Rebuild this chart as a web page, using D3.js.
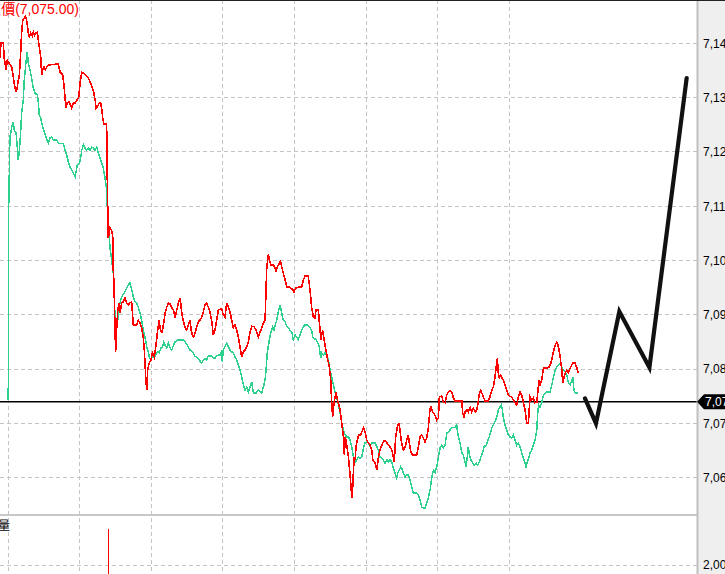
<!DOCTYPE html>
<html><head><meta charset="utf-8">
<script src="https://cdn.jsdelivr.net/npm/d3@7"></script>
<style>html,body{margin:0;padding:0;background:#fff;overflow:hidden}svg{display:block}</style>
</head><body>
<svg id="c" width="725" height="574"></svg>
<script>
const titleText = "成交價(7,075.00)";
const volumeLabel = "量";
const lastPrice = 7075;
const priceTicks = [7141,7131,7121,7111,7101,7091,7081,7071,7061];
const volumeTicks = [2000];
const timeTicks = [0,30,60,90,120,150,180,210];

// [minutes after open, price]
const priceSeries = [[-3.4,7138.3],[-2.9,7141.1],[-2.0,7141.1],[-1.6,7138.3],[-0.8,7136.1],[-0.3,7137.9],[0.4,7137.4],[1.6,7136.6],[2.2,7134.8],[2.9,7132.8],[3.4,7132.0],[3.9,7133.0],[4.3,7134.2],[4.7,7134.8],[5.3,7139.2],[5.7,7142.9],[6.2,7145.3],[7.3,7146.0],[7.8,7145.3],[8.5,7142.9],[8.9,7142.2],[9.5,7142.9],[10.2,7142.3],[10.6,7143.1],[11.2,7142.5],[11.7,7142.9],[12.3,7143.1],[12.7,7141.6],[13.1,7140.3],[13.7,7138.5],[14.1,7135.2],[14.5,7136.1],[15.1,7136.6],[15.6,7136.1],[16.2,7136.6],[16.9,7137.0],[21.1,7137.2],[21.8,7135.7],[22.9,7135.2],[23.5,7133.0],[23.9,7130.9],[24.3,7129.1],[24.8,7130.0],[25.7,7130.2],[26.7,7129.1],[27.4,7130.0],[28.1,7130.0],[29.0,7130.6],[29.6,7131.1],[30.2,7133.7],[30.9,7135.7],[31.6,7135.5],[33.0,7135.0],[33.6,7134.6],[34.4,7133.9],[35.1,7133.0],[35.7,7132.4],[36.5,7130.6],[36.9,7129.1],[37.4,7129.3],[38.3,7130.0],[38.8,7130.0],[39.3,7128.7],[39.7,7127.2],[40.2,7126.1],[41.3,7126.1],[41.5,7120.8],[41.6,7115.8],[41.8,7110.3],[42.0,7105.1],[42.7,7107.0],[43.4,7106.6],[43.9,7105.3],[44.1,7099.2],[44.4,7096.9],[44.8,7088.6],[45.1,7084.2],[45.5,7088.2],[46.0,7091.9],[46.5,7093.2],[46.9,7091.3],[47.6,7093.2],[48.3,7093.4],[49.0,7094.1],[49.7,7093.2],[50.4,7092.8],[51.1,7093.2],[51.8,7093.4],[52.5,7089.1],[53.9,7089.1],[54.6,7090.0],[55.3,7089.5],[56.0,7088.6],[56.7,7086.7],[57.1,7084.5],[57.7,7079.4],[58.1,7077.1],[58.5,7080.8],[59.1,7082.1],[59.9,7082.7],[60.5,7084.0],[61.3,7083.2],[61.9,7085.1],[62.7,7088.2],[63.3,7090.0],[63.7,7088.6],[64.4,7087.6],[65.1,7089.1],[65.8,7091.3],[66.5,7092.4],[67.2,7093.2],[67.9,7093.0],[68.6,7092.3],[69.3,7091.9],[70.0,7090.4],[70.7,7091.9],[71.4,7093.2],[72.1,7094.1],[72.8,7091.3],[73.4,7090.0],[74.2,7088.6],[74.9,7088.2],[75.5,7089.1],[76.3,7090.0],[76.7,7088.2],[77.2,7087.3],[77.8,7086.9],[78.3,7087.6],[79.1,7088.8],[79.7,7089.7],[80.4,7090.0],[81.2,7090.6],[81.8,7091.5],[82.5,7092.8],[83.2,7093.2],[83.9,7092.4],[84.6,7091.5],[85.3,7090.0],[86.0,7087.3],[86.7,7088.2],[87.4,7090.0],[88.1,7091.9],[89.5,7092.1],[90.2,7091.0],[90.9,7090.6],[91.6,7093.2],[92.3,7092.4],[93.0,7091.5],[93.7,7090.0],[94.4,7088.6],[95.1,7089.1],[95.8,7088.2],[96.5,7086.9],[97.2,7085.1],[97.9,7083.2],[98.6,7084.2],[99.3,7084.5],[100.0,7085.1],[100.7,7086.0],[101.4,7087.8],[102.1,7088.9],[103.1,7088.8],[103.9,7088.2],[104.9,7086.9],[105.6,7087.8],[106.3,7088.6],[107.0,7089.5],[107.7,7090.0],[108.1,7095.6],[108.4,7099.8],[109.1,7102.2],[109.5,7101.1],[110.1,7100.2],[111.1,7100.2],[111.9,7099.6],[112.3,7098.9],[112.8,7099.8],[113.7,7100.5],[114.2,7100.9],[114.7,7099.8],[115.3,7098.7],[116.1,7097.4],[116.8,7096.1],[118.1,7096.1],[119.3,7095.6],[119.8,7095.2],[120.5,7095.9],[121.6,7096.1],[123.0,7096.1],[123.7,7097.4],[124.4,7098.1],[125.8,7098.1],[126.5,7095.6],[127.2,7092.4],[127.9,7090.6],[128.6,7090.4],[129.0,7091.9],[130.0,7091.9],[130.7,7088.2],[131.1,7086.4],[131.8,7088.2],[132.4,7086.4],[133.2,7084.5],[133.8,7083.0],[134.6,7081.4],[135.2,7079.0],[135.6,7074.8],[136.0,7072.2],[136.6,7074.8],[137.4,7076.8],[138.0,7075.3],[138.4,7074.8],[139.1,7073.5],[139.8,7071.1],[140.5,7068.5],[140.9,7065.2],[141.3,7068.5],[141.9,7067.0],[142.6,7064.8],[143.3,7061.5],[143.7,7059.3],[144.0,7057.3],[144.4,7059.3],[145.0,7064.8],[145.4,7064.3],[145.8,7066.7],[146.3,7067.9],[146.9,7068.9],[147.8,7068.9],[148.2,7069.4],[148.9,7070.2],[149.6,7069.4],[150.3,7067.9],[151.0,7067.4],[151.7,7067.0],[152.4,7066.1],[152.8,7064.3],[153.8,7063.7],[154.5,7062.4],[155.1,7064.6],[155.8,7066.1],[156.6,7067.0],[157.2,7067.6],[157.9,7067.9],[158.7,7067.4],[159.3,7067.0],[160.0,7066.7],[160.8,7066.1],[161.4,7064.8],[161.8,7063.9],[162.4,7068.5],[163.1,7070.3],[163.7,7071.1],[164.2,7069.8],[164.9,7067.4],[165.6,7066.1],[166.3,7066.5],[167.0,7067.9],[167.7,7068.9],[168.1,7067.4],[168.8,7065.7],[169.5,7065.2],[171.2,7065.2],[171.9,7066.7],[172.6,7068.5],[173.3,7068.9],[174.0,7068.3],[174.7,7067.6],[175.4,7068.3],[176.1,7070.3],[176.8,7073.8],[177.2,7074.0],[177.9,7073.1],[178.9,7072.5],[179.6,7071.6],[180.3,7072.0],[180.7,7075.9],[181.7,7076.0],[182.4,7074.9],[183.1,7074.8],[183.8,7076.2],[184.5,7076.8],[185.2,7077.0],[185.9,7076.8],[186.6,7075.7],[187.3,7075.1],[190.1,7075.1],[190.5,7072.9],[191.0,7072.2],[191.5,7073.1],[192.2,7073.5],[192.8,7073.1],[193.6,7074.0],[194.3,7073.1],[194.9,7073.8],[195.7,7073.1],[196.4,7073.5],[197.0,7075.1],[197.5,7076.6],[198.0,7077.1],[198.5,7076.6],[199.1,7075.9],[199.9,7075.1],[201.2,7075.1],[201.9,7075.9],[202.7,7077.1],[203.3,7077.7],[204.0,7079.5],[204.5,7081.4],[205.0,7083.0],[205.4,7080.3],[205.8,7079.4],[206.4,7079.9],[206.9,7079.4],[207.5,7079.0],[208.2,7078.1],[208.9,7077.1],[209.6,7076.2],[210.3,7076.0],[211.0,7075.9],[211.7,7075.3],[212.4,7074.9],[213.1,7074.4],[213.8,7075.9],[214.5,7076.8],[215.2,7076.2],[215.9,7074.9],[216.6,7073.5],[217.3,7071.1],[218.0,7071.1],[218.4,7074.0],[218.7,7075.9],[219.4,7075.3],[220.1,7075.7],[220.8,7074.8],[221.5,7074.9],[221.9,7076.6],[222.5,7079.0],[222.9,7078.1],[223.6,7079.0],[224.3,7081.2],[225.7,7081.2],[226.8,7081.4],[227.4,7082.1],[227.8,7082.7],[228.5,7084.2],[229.2,7085.4],[229.9,7086.0],[230.6,7085.1],[231.3,7083.2],[232.0,7080.8],[232.4,7078.4],[232.9,7079.5],[233.5,7080.3],[234.1,7080.8],[234.7,7080.3],[235.5,7081.2],[236.6,7082.1],[237.6,7082.1],[238.3,7081.2],[238.9,7080.3]];

const avgSeries = [[0.1,7075.3],[0.3,7110.9],[0.8,7123.7],[1.6,7125.6],[2.2,7126.5],[2.6,7125.0],[3.4,7124.5],[3.9,7121.9],[4.3,7119.5],[4.7,7121.0],[5.3,7124.5],[5.7,7128.2],[6.4,7130.6],[6.8,7134.2],[7.5,7137.4],[8.1,7139.4],[8.5,7137.4],[9.2,7136.1],[9.9,7134.6],[10.6,7132.8],[11.3,7131.8],[12.3,7131.5],[12.7,7130.2],[13.1,7127.8],[13.7,7127.2],[14.5,7125.6],[15.2,7124.7],[15.9,7123.7],[16.9,7122.6],[17.6,7123.6],[18.3,7123.7],[19.0,7123.2],[20.4,7123.2],[21.1,7122.6],[23.2,7122.5],[23.9,7121.3],[24.6,7120.4],[25.3,7119.1],[26.0,7118.2],[26.7,7117.7],[27.4,7117.1],[28.1,7116.4],[28.5,7117.3],[29.0,7118.6],[29.9,7118.9],[30.5,7120.1],[30.9,7121.3],[31.6,7122.3],[32.3,7121.7],[33.0,7121.3],[33.6,7121.7],[34.4,7121.3],[35.1,7121.9],[35.7,7121.7],[36.5,7121.3],[37.2,7121.9],[37.8,7120.8],[38.5,7119.9],[39.3,7118.9],[39.9,7118.0],[40.6,7116.4],[41.3,7114.0],[41.6,7110.9],[42.0,7108.5],[42.4,7106.1],[42.7,7103.5],[43.4,7101.1],[44.1,7098.7],[44.5,7096.1],[44.8,7090.6],[45.3,7090.0],[45.8,7089.1],[46.2,7091.3],[46.9,7093.2],[47.6,7094.3],[48.7,7095.0],[49.7,7095.9],[50.4,7096.5],[51.1,7096.9],[51.8,7095.6],[52.5,7094.3],[53.2,7093.4],[53.9,7093.2],[54.6,7092.4],[55.3,7091.3],[56.0,7090.0],[56.7,7088.2],[57.4,7086.9],[58.1,7085.1],[58.8,7084.2],[59.2,7083.2],[59.9,7082.7],[60.6,7083.6],[61.3,7083.0],[61.9,7083.6],[62.7,7084.2],[63.3,7084.0],[64.1,7084.9],[64.8,7085.1],[65.2,7086.0],[65.8,7085.4],[66.5,7084.9],[67.2,7085.8],[67.9,7084.9],[68.6,7084.5],[69.3,7085.4],[70.0,7086.0],[70.7,7086.2],[71.4,7086.4],[73.4,7086.4],[74.2,7086.0],[74.9,7085.6],[75.5,7085.1],[76.3,7084.5],[77.0,7084.2],[77.6,7084.0],[78.3,7083.4],[79.1,7083.2],[79.7,7082.9],[80.4,7082.5],[81.2,7082.1],[81.8,7082.7],[82.5,7083.0],[83.2,7082.7],[83.9,7083.4],[85.3,7083.4],[86.0,7083.0],[86.7,7083.0],[87.4,7083.4],[88.1,7083.6],[88.8,7083.6],[89.5,7084.2],[89.8,7082.3],[90.1,7084.4],[90.9,7085.1],[91.6,7085.8],[92.3,7085.1],[93.0,7084.5],[93.7,7084.2],[94.4,7084.0],[95.1,7083.2],[95.8,7082.7],[96.5,7081.8],[97.2,7080.8],[97.9,7079.5],[98.6,7078.1],[99.3,7077.1],[100.0,7077.7],[100.7,7076.8],[101.4,7077.7],[102.1,7078.6],[102.8,7076.6],[103.9,7076.6],[104.9,7077.1],[105.6,7076.8],[106.3,7076.6],[107.0,7077.7],[107.7,7079.0],[108.1,7080.8],[108.6,7084.0],[109.5,7086.4],[110.1,7087.8],[110.9,7088.8],[111.4,7088.2],[111.9,7089.1],[112.6,7090.0],[113.2,7091.5],[114.0,7092.8],[114.7,7091.3],[115.3,7090.0],[116.1,7089.7],[116.8,7088.8],[117.4,7088.6],[118.1,7088.2],[118.9,7087.8],[119.5,7086.4],[120.2,7087.3],[121.0,7086.9],[121.6,7086.4],[122.3,7087.3],[123.0,7088.2],[123.7,7088.8],[124.4,7089.1],[125.4,7089.1],[126.2,7088.8],[127.2,7088.2],[127.7,7086.9],[128.2,7086.7],[129.0,7086.4],[129.6,7086.0],[130.4,7085.1],[131.0,7083.0],[131.4,7084.0],[132.1,7083.6],[132.8,7084.0],[133.5,7083.6],[134.2,7082.7],[134.9,7081.0],[135.6,7079.5],[136.3,7078.1],[137.0,7076.8],[137.7,7075.9],[138.4,7074.4],[139.1,7072.9],[139.8,7071.1],[140.5,7069.8],[141.2,7068.9],[141.9,7068.5],[142.6,7068.5],[143.3,7067.9],[144.0,7066.7],[144.4,7065.6],[145.0,7064.3],[145.5,7063.9],[146.1,7064.3],[146.8,7064.8],[147.5,7064.6],[148.2,7064.8],[148.9,7066.5],[149.6,7067.4],[150.3,7067.6],[151.0,7067.4],[151.7,7066.7],[152.4,7067.4],[153.8,7067.4],[154.5,7066.7],[155.1,7066.1],[155.8,7064.8],[156.6,7064.6],[157.2,7064.3],[157.9,7063.7],[158.7,7064.3],[159.3,7063.9],[160.0,7064.3],[160.8,7063.9],[161.4,7062.8],[162.1,7061.9],[162.8,7060.9],[163.3,7061.9],[163.9,7062.4],[164.5,7063.0],[164.9,7062.8],[165.6,7061.9],[166.3,7061.1],[167.0,7061.5],[167.7,7061.5],[168.4,7060.6],[169.1,7059.3],[169.8,7058.2],[171.2,7058.2],[171.9,7057.8],[172.6,7056.9],[173.3,7055.6],[174.0,7055.4],[174.7,7055.4],[175.4,7056.3],[176.1,7057.4],[176.8,7058.7],[177.5,7060.9],[178.2,7062.4],[178.9,7061.9],[179.6,7063.0],[180.3,7064.8],[181.0,7066.5],[181.7,7067.0],[182.4,7066.5],[183.1,7067.0],[183.8,7069.2],[184.5,7069.4],[185.2,7069.8],[185.9,7070.2],[187.3,7070.3],[188.0,7070.7],[188.2,7069.8],[188.7,7068.5],[189.4,7067.4],[190.1,7065.6],[190.7,7065.2],[191.5,7063.9],[191.9,7063.0],[192.4,7064.8],[192.8,7066.7],[193.3,7065.2],[193.9,7064.3],[194.7,7063.7],[195.2,7063.3],[196.1,7063.7],[196.6,7063.3],[197.5,7063.9],[198.0,7064.8],[198.9,7065.7],[199.4,7066.7],[200.3,7067.0],[200.8,7067.6],[201.6,7068.5],[202.2,7069.4],[202.7,7070.2],[203.3,7070.7],[204.0,7071.3],[204.8,7072.2],[205.4,7073.5],[206.1,7074.0],[206.6,7074.4],[207.1,7073.5],[207.5,7072.2],[208.2,7070.7],[208.9,7069.8],[209.6,7068.9],[210.3,7068.5],[211.0,7068.3],[211.7,7068.9],[212.4,7067.9],[213.1,7067.0],[213.8,7067.4],[214.5,7066.7],[215.2,7065.6],[215.9,7064.6],[216.6,7063.7],[217.0,7063.0],[217.6,7063.9],[218.1,7064.6],[218.7,7065.6],[219.4,7066.1],[220.1,7067.0],[220.8,7067.9],[221.5,7069.8],[221.9,7072.9],[222.3,7074.4],[222.9,7074.0],[223.6,7074.8],[224.3,7076.2],[225.0,7076.6],[225.7,7076.8],[227.1,7076.8],[227.8,7078.1],[228.5,7079.5],[229.2,7080.8],[229.9,7081.4],[230.6,7081.8],[231.3,7082.1],[232.0,7081.4],[232.6,7080.8],[233.4,7080.5],[234.1,7079.9],[234.7,7078.6],[235.5,7078.1],[236.2,7079.0],[236.6,7079.4],[237.1,7077.1],[237.6,7076.6],[238.9,7076.6]];

const forecastSeries = [[241.7,7075.6],[246.3,7071.0],[256.1,7091.6],[268.7,7081.3],[284.3,7134.6]];
const volumeSeries = [[41.9,4060]];

const W = 725, H = 574;
const plotRight = 697, priceBottom = 515;
const svg = d3.select("#c");
const x = d3.scaleLinear().domain([0, 210]).range([8, 509.3]);
const y = d3.scaleLinear().domain([7061, 7141]).range([477.7, 43.3]);
const yv = d3.scaleLinear().domain([0, 4000]).range([600, 530]);
const crisp = v => Math.floor(v) + 0.5;

svg.append("rect").attr("width", W).attr("height", H).attr("fill", "#fff");

// grid
const grid = svg.append("g").attr("stroke", "#c4c4c4").attr("stroke-dasharray", "4,3").attr("stroke-width", 1);
grid.selectAll(".hg").data(priceTicks).join("line")
  .attr("x1", 0).attr("x2", plotRight).attr("y1", d => crisp(y(d))).attr("y2", d => crisp(y(d)));
grid.selectAll(".vg").data(timeTicks).join("line")
  .attr("y1", 0).attr("y2", H).attr("x1", d => crisp(x(d))).attr("x2", d => crisp(x(d)));
grid.selectAll(".vol").data(volumeTicks).join("line")
  .attr("x1", 0).attr("x2", plotRight).attr("y1", d => crisp(yv(d))).attr("y2", d => crisp(yv(d)));

// panel separator
svg.append("line").attr("x1", 0).attr("x2", plotRight).attr("y1", priceBottom).attr("y2", priceBottom)
  .attr("stroke", "#c8c8c8").attr("stroke-width", 2);

// clip
svg.append("clipPath").attr("id", "pc").append("rect").attr("x", 0).attr("y", 1).attr("width", plotRight).attr("height", priceBottom - 1);
svg.append("clipPath").attr("id", "vc").append("rect").attr("x", 0).attr("y", priceBottom + 1).attr("width", plotRight).attr("height", H - priceBottom);

// reference line
svg.append("line").attr("x1", 0).attr("x2", plotRight).attr("y1", y(lastPrice)).attr("y2", y(lastPrice))
  .attr("stroke", "#000").attr("stroke-width", 1.6);

const line = d3.line().x(d => x(d[0])).y(d => y(d[1]));
const lines = svg.append("g").attr("clip-path", "url(#pc)");
lines.append("path").datum(avgSeries).attr("d", line).attr("fill", "none")
  .attr("stroke", "#2dd08d").attr("stroke-width", 1.5).attr("shape-rendering", "crispEdges");
lines.append("path").datum(priceSeries).attr("d", line).attr("fill", "none")
  .attr("stroke", "#ff0000").attr("stroke-width", 1.6).attr("shape-rendering", "crispEdges");
lines.append("path").datum(forecastSeries).attr("d", line).attr("fill", "none")
  .attr("stroke", "#111").attr("stroke-width", 4.2).attr("stroke-linecap", "round").attr("stroke-linejoin", "miter");

// volume bars
svg.append("g").attr("clip-path", "url(#vc)").selectAll("line").data(volumeSeries).join("line")
  .attr("x1", d => crisp(x(d[0]))).attr("x2", d => crisp(x(d[0])))
  .attr("y1", d => yv(d[1])).attr("y2", yv(0))
  .attr("stroke", "#ff0000").attr("stroke-width", 1);

// right axis panel
svg.append("rect").attr("x", plotRight).attr("y", 0).attr("width", W - plotRight).attr("height", H).attr("fill", "#efefef");
svg.append("line").attr("x1", plotRight + 0.5).attr("x2", plotRight + 0.5).attr("y1", 0).attr("y2", H)
  .attr("stroke", "#c0c0c0").attr("stroke-width", 2);

const fmt = d3.format(",.2f");
const axisFont = "'Liberation Sans', Arial, sans-serif";
const ay = svg.append("g").attr("transform", "translate(703,0)")
  .call(d3.axisRight(y).tickValues(priceTicks).tickSize(0).tickPadding(0).tickFormat(fmt));
ay.select(".domain").remove();
ay.selectAll("text").attr("font-family", axisFont).attr("font-size", 12).attr("fill", "#000");
const av = svg.append("g").attr("transform", "translate(703,0)")
  .call(d3.axisRight(yv).tickValues(volumeTicks).tickSize(0).tickPadding(0).tickFormat(fmt));
av.select(".domain").remove();
av.selectAll("text").attr("font-family", axisFont).attr("font-size", 12).attr("fill", "#000");

// last price marker
const my = y(lastPrice);
svg.append("path")
  .attr("d", `M${plotRight},${my} L${plotRight + 7},${my - 7.5} L${W},${my - 7.5} L${W},${my + 7.5} L${plotRight + 7},${my + 7.5} Z`)
  .attr("fill", "#000");
svg.append("text").attr("x", 705).attr("y", my).attr("dy", "0.34em")
  .attr("font-family", axisFont).attr("font-size", 12).attr("fill", "#fff").text(fmt(lastPrice));

// top border
svg.append("line").attr("x1", 0).attr("x2", W).attr("y1", 0.5).attr("y2", 0.5).attr("stroke", "#222").attr("stroke-width", 1);

// titles
svg.append("text").attr("x", 79).attr("y", 14).attr("text-anchor", "end")
  .attr("font-family", "'Liberation Sans', 'Noto Sans CJK TC', sans-serif").attr("font-size", 14)
  .attr("fill", "#ff0000").text(titleText);
svg.append("text").attr("x", 10).attr("y", 530).attr("text-anchor", "end")
  .attr("font-family", "'Noto Sans CJK TC', sans-serif").attr("font-size", 12)
  .attr("fill", "#000").text(volumeLabel);
</script>
</body></html>
